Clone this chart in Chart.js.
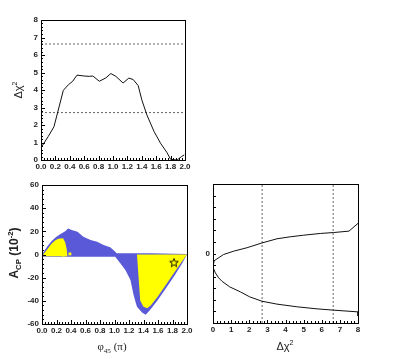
<!DOCTYPE html>
<html>
<head>
<meta charset="utf-8">
<script src="https://cdn.jsdelivr.net/npm/chart.js@4.4.0/dist/chart.umd.min.js"></script>
<style>
html, body { margin: 0; padding: 0; background: #fff; }
#wrap { position: relative; width: 402px; height: 359px; overflow: hidden; }
#wrap canvas { position: absolute; left: 0; top: 0; }
.lbl { position: absolute; white-space: nowrap; color: #222; line-height: 1;
       font-family: "Liberation Sans", Arial, sans-serif; transform: translate(-50%, -50%); }
.lbl sup, .lbl sub { font-size: 65%; line-height: 0; }
</style>
</head>
<body>
<div id="wrap">
    <canvas id="chi2-chart" width="402" height="359"></canvas>
    <canvas id="acp-chart" width="402" height="359"></canvas>
    <canvas id="scan-chart" width="402" height="359"></canvas>
    <div class="lbl" style="left:18px; top:90px; font-size:11px; transform:translate(-50%,-50%) rotate(-90deg);">&Delta;&chi;<sup>2</sup></div>
    <div class="lbl" style="left:14px; top:253px; font-size:12px; font-weight:bold; transform:translate(-50%,-50%) rotate(-90deg);">A<sub>CP</sub> (10<sup>-2</sup>)</div>
    <div class="lbl" style="left:112px; top:346px; font-size:11px; font-family:'Liberation Serif',serif;">&phi;<sub>45</sub> (&pi;)</div>
    <div class="lbl" style="left:285px; top:346px; font-size:11px;">&Delta;&chi;<sup>2</sup></div>
</div>

<script>
// ---- top panel: delta chi2 scan vs phi45 ----
const phiScan = [0.0, 0.10, 0.18, 0.31, 0.38, 0.44, 0.50, 0.60, 0.67, 0.72, 0.81, 0.90, 0.97, 1.04, 1.14, 1.22, 1.28, 1.35, 1.40, 1.47, 1.57, 1.66, 1.75, 1.80, 1.89, 1.95, 1.99];
const chi2Scan = [0.70, 1.34, 1.90, 3.98, 4.30, 4.50, 4.85, 4.80, 4.78, 4.80, 4.50, 4.69, 4.94, 4.78, 4.40, 4.68, 4.60, 4.25, 3.44, 2.58, 1.63, 0.96, 0.42, 0.04, 0.0, 0.19, 0.29];
const clLevels = [2.71, 6.63];

// ---- bottom left: A_CP vs phi45 allowed regions ----
// blue region: upper edge left->right, then lower edge right->left
const blueTopPhi = [0.0, 0.03, 0.08, 0.13, 0.19, 0.25, 0.32, 0.36, 0.41, 0.49, 0.57, 0.67, 0.76, 0.85, 0.94, 1.00, 1.03, 1.50, 2.00];
const blueTopA   = [0.0, 3.0, 7.5, 11.5, 15.0, 17.5, 20.0, 22.5, 21.2, 19.7, 15.4, 12.5, 11.0, 8.2, 6.2, 3.0, 1.0, 1.0, 0.5];
const blueLowPhi = [2.00, 1.93, 1.82, 1.70, 1.59, 1.49, 1.43, 1.38, 1.31, 1.29, 1.26, 1.22, 1.15, 1.08, 1.01, 0.50, 0.0];
const blueLowA   = [0.0, -8.0, -19.0, -30.0, -40.0, -48.0, -52.0, -50.0, -45.0, -41.0, -34.0, -22.0, -13.4, -7.6, -2.0, -2.0, -2.0];
// yellow region (small, left)
const yelLTopPhi = [0.02, 0.08, 0.13, 0.18, 0.225, 0.29, 0.32, 0.34, 0.35];
const yelLTopA   = [0.5, 5.0, 9.2, 12.0, 13.5, 14.0, 10.6, 5.0, -1.5];
const yelLLowPhi = [0.02];
const yelLLowA   = [-1.5];
// yellow region (big, right)
const yelRTopPhi = [1.31, 2.00];
const yelRTopA   = [0.0, 0.0];
const yelRLowPhi = [2.00, 1.93, 1.82, 1.70, 1.59, 1.50, 1.45, 1.40, 1.355];
const yelRLowA   = [0.0, -6.0, -16.0, -27.0, -37.0, -44.0, -46.5, -45.0, -40.0];
// isolated yellow points
const yelDotPhi = [0.295, 0.385];
const yelDotA   = [-0.5, 0.5];
// best fit
const bestPhi = [1.82];
const bestA   = [-7.0];

// ---- bottom right: delta chi2 vs A_CP ----
const scanUpChi2 = [0.0, 0.05, 0.22, 0.58, 1.14, 1.88, 2.70, 3.53, 4.26, 5.00, 5.92, 6.65, 7.50, 8.00];
const scanUpA    = [-8.5, -6.5, -4.6, -0.9, 2.0, 5.0, 9.1, 12.7, 14.4, 15.8, 17.3, 18.1, 19.3, 26.0];
const scanLoChi2 = [0.0, 0.13, 0.31, 0.50, 0.92, 1.51, 2.02, 2.70, 3.53, 4.63, 5.74, 6.65, 8.00, 8.00];
const scanLoA    = [-12.0, -16.7, -21.0, -24.0, -28.8, -33.1, -37.4, -41.2, -43.7, -46.0, -47.8, -48.9, -50.4, -54.0];

const BLUE = '#5a5ad8';
const YELLOW = '#ffff00';
const tickFont = { family: '"Liberation Sans", Arial, sans-serif', size: 8, weight: 'bold' };

function pts(xs, ys) {
    return xs.map((x, i) => ({ x: x, y: ys[i] }));
}

function polygon(topX, topY, lowX, lowY) {
    return pts(topX, topY).concat(pts(lowX, lowY));
}

// ROOT-like frame with inward ticks
const rootFrame = {
    id: 'rootFrame',
    afterDraw(chart, args, opts) {
        const ctx = chart.ctx;
        const a = chart.chartArea;
        ctx.save();
        ctx.strokeStyle = '#000';
        ctx.lineWidth = 1;
        ctx.strokeRect(Math.round(a.left) + 0.5, Math.round(a.top) + 0.5,
                       Math.round(a.right - a.left), Math.round(a.bottom - a.top));
        ctx.beginPath();
        eachTick(chart.scales.x, opts.xMajor, opts.xMinor, (px, major) => {
            const len = major ? opts.majorLen : opts.minorLen;
            const x = Math.round(px) + 0.5;
            ctx.moveTo(x, a.bottom);
            ctx.lineTo(x, a.bottom - len);
        });
        eachTick(chart.scales.y, opts.yMajor, opts.yMinor, (py, major) => {
            const len = major ? opts.majorLen : opts.minorLen;
            const y = Math.round(py) + 0.5;
            ctx.moveTo(a.left, y);
            ctx.lineTo(a.left + len, y);
        });
        ctx.stroke();
        ctx.restore();
    }
};

function eachTick(scale, major, minor, fn) {
    const n = Math.round((scale.max - scale.min) / minor);
    for (let k = 0; k <= n; k++) {
        const v = scale.min + k * minor;
        const r = v / major;
        fn(scale.getPixelForValue(v), Math.abs(r - Math.round(r)) < 1e-6);
    }
}

function makeStar() {
    const c = document.createElement('canvas');
    c.width = 10; c.height = 10;
    const g = c.getContext('2d');
    g.beginPath();
    for (let i = 0; i < 10; i++) {
        const r = i % 2 === 0 ? 4.5 : 1.9;
        const ang = -Math.PI / 2 + i * Math.PI / 5;
        const x = 5 + r * Math.cos(ang), y = 5.3 + r * Math.sin(ang);
        if (i === 0) g.moveTo(x, y); else g.lineTo(x, y);
    }
    g.closePath();
    g.strokeStyle = '#000';
    g.lineWidth = 0.9;
    g.stroke();
    return c;
}

function axes(xMin, xMax, xStep, xDigits, yMin, yMax, yStep, yCallback, xWidthFit, yWidthFit) {
    return {
        x: {
            type: 'linear', min: xMin, max: xMax,
            grid: { display: false, drawTicks: false }, border: { display: false },
            ticks: { stepSize: xStep, font: tickFont, color: '#222', padding: 2, maxRotation: 0, autoSkip: false,
                     callback: v => v.toFixed(xDigits) },
            afterFit: s => { s.height = xWidthFit; }
        },
        y: {
            type: 'linear', min: yMin, max: yMax,
            grid: { display: false, drawTicks: false }, border: { display: false },
            ticks: { stepSize: yStep, font: tickFont, color: '#222', padding: 3, autoSkip: false,
                     callback: yCallback },
            afterFit: s => { s.width = yWidthFit; }
        }
    };
}

function baseOptions(padding, scales, frame) {
    return {
        responsive: false,
        animation: false,
        events: [],
        layout: { padding: padding },
        scales: scales,
        plugins: { legend: { display: false }, tooltip: { enabled: false }, rootFrame: frame }
    };
}

function generateChi2Chart() {
    const ctx = document.getElementById('chi2-chart').getContext('2d');
    new Chart(ctx, {
        type: 'line',
        data: {
            datasets: [{
                data: pts(phiScan, chi2Scan),
                borderColor: '#111', borderWidth: 1, pointRadius: 0, tension: 0, fill: false
            }].concat(clLevels.map(l => ({
                data: [{ x: 0, y: l }, { x: 2, y: l }],
                borderColor: '#666', borderWidth: 1, borderDash: [2, 2], pointRadius: 0, fill: false
            })))
        },
        options: baseOptions(
            { left: 21, top: 20, right: 217, bottom: 179 },
            axes(0, 2, 0.2, 1, 0, 8, 1, v => String(v), 20, 20),
            { xMajor: 0.2, xMinor: 0.04, yMajor: 1, yMinor: 0.2, majorLen: 4, minorLen: 2 }
        ),
        plugins: [rootFrame]
    });
}

function generateAcpChart() {
    const ctx = document.getElementById('acp-chart').getContext('2d');
    new Chart(ctx, {
        type: 'line',
        data: {
            datasets: [
                {
                    data: polygon(blueTopPhi, blueTopA, blueLowPhi, blueLowA),
                    borderWidth: 0, borderColor: BLUE, backgroundColor: BLUE,
                    pointRadius: 0, tension: 0, fill: 'shape', order: 4
                },
                {
                    data: polygon(yelLTopPhi, yelLTopA, yelLLowPhi, yelLLowA),
                    borderWidth: 0, borderColor: YELLOW, backgroundColor: YELLOW,
                    pointRadius: 0, tension: 0, fill: 'shape', order: 3
                },
                {
                    data: polygon(yelRTopPhi, yelRTopA, yelRLowPhi, yelRLowA),
                    borderWidth: 0, borderColor: YELLOW, backgroundColor: YELLOW,
                    pointRadius: 0, tension: 0, fill: 'shape', order: 2
                },
                {
                    data: pts(yelDotPhi, yelDotA), showLine: false,
                    pointStyle: 'rect', pointRadius: 2, pointBackgroundColor: YELLOW, pointBorderWidth: 0, order: 1
                },
                {
                    data: pts(bestPhi, bestA), showLine: false,
                    pointStyle: makeStar(), pointRadius: 5, order: 0
                }
            ]
        },
        options: baseOptions(
            { left: 22, top: 185, right: 215, bottom: 15 },
            axes(0, 2, 0.2, 1, -60, 60, 20, v => String(v), 20, 20),
            { xMajor: 0.2, xMinor: 0.04, yMajor: 20, yMinor: 4, majorLen: 4, minorLen: 2 }
        ),
        plugins: [rootFrame]
    });
}

function generateScanChart() {
    const ctx = document.getElementById('scan-chart').getContext('2d');
    new Chart(ctx, {
        type: 'line',
        data: {
            datasets: [
                {
                    data: pts(scanUpChi2, scanUpA),
                    borderColor: '#111', borderWidth: 1, pointRadius: 0, tension: 0, fill: false
                },
                {
                    data: pts(scanLoChi2, scanLoA),
                    borderColor: '#111', borderWidth: 1, pointRadius: 0, tension: 0, fill: false
                }
            ].concat(clLevels.map(l => ({
                data: [{ x: l, y: -60 }, { x: l, y: 60 }],
                borderColor: '#666', borderWidth: 1, borderDash: [2, 2], pointRadius: 0, fill: false
            })))
        },
        options: baseOptions(
            { left: 193, top: 184, right: 44, bottom: 16 },
            axes(0, 8, 1, 0, -60, 60, 10, v => (v === 0 ? '0' : ''), 20, 20),
            { xMajor: 1, xMinor: 0.2, yMajor: 10, yMinor: 10, majorLen: 3, minorLen: 2 }
        ),
        plugins: [rootFrame]
    });
}

generateChi2Chart();
generateAcpChart();
generateScanChart();
</script>
</body>
</html>
